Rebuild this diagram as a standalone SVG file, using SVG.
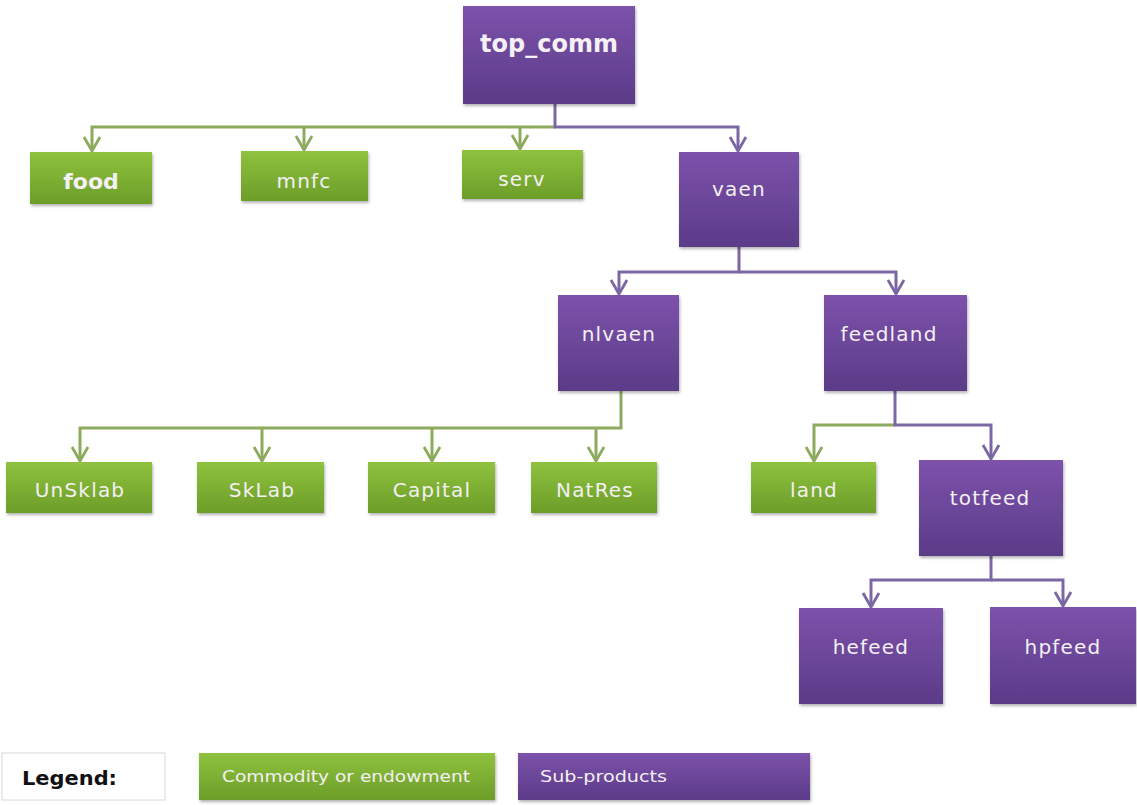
<svg xmlns="http://www.w3.org/2000/svg" width="1137" height="805" viewBox="0 0 1137 805">
<style>
.g{fill:url(#gg)}
.p{fill:url(#pg)}
.lbl{font-family:"DejaVu Sans",Verdana,sans-serif;font-size:20px;fill:#f4f0f4;text-anchor:middle;letter-spacing:1.2px}
.b{font-weight:bold;letter-spacing:0}
.cg{fill:none;stroke:#8dab5e;stroke-width:3}
.cp{fill:none;stroke:#7b67a3;stroke-width:3}
.sm{font-family:"DejaVu Sans",Verdana,sans-serif;font-size:16px;fill:#f4f0f4}
</style>
<defs>
<linearGradient id="gg" x1="0" y1="0" x2="0" y2="1">
<stop offset="0" stop-color="#8fc23e"/>
<stop offset="1" stop-color="#6c9d29"/>
</linearGradient>
<linearGradient id="pg" x1="0" y1="0" x2="0" y2="1">
<stop offset="0" stop-color="#7c52ab"/>
<stop offset="1" stop-color="#5b3b88"/>
</linearGradient>
<filter id="sh" x="-10%" y="-10%" width="125%" height="130%">
<feDropShadow dx="1" dy="2" stdDeviation="1.5" flood-color="#000" flood-opacity="0.3"/>
</filter>
<marker id="ag" viewBox="-2 -10 18 20" refX="14" refY="0" markerWidth="18" markerHeight="20" markerUnits="userSpaceOnUse" orient="auto">
<path d="M0,-8 L14,0 L0,8" fill="none" stroke="#8dab5e" stroke-width="2.8"/>
</marker>
<marker id="ap" viewBox="-2 -10 18 20" refX="14" refY="0" markerWidth="18" markerHeight="20" markerUnits="userSpaceOnUse" orient="auto">
<path d="M0,-8 L14,0 L0,8" fill="none" stroke="#7b67a3" stroke-width="2.8"/>
</marker>
</defs>
<rect width="1137" height="805" fill="#ffffff"/>
<g id="connectors">
<path class="cg" d="M555,127 H92 V151" marker-end="url(#ag)"/>
<path class="cg" d="M304,127 V150" marker-end="url(#ag)"/>
<path class="cg" d="M520,127 V149" marker-end="url(#ag)"/>
<path class="cp" d="M555,104 V127 H738 V151" marker-end="url(#ap)"/>
<path class="cp" d="M739,247 V272 H619 V294" marker-end="url(#ap)"/>
<path class="cp" d="M739,272 H896 V294" marker-end="url(#ap)"/>
<path class="cg" d="M621,391 V428 H80 V461" marker-end="url(#ag)"/>
<path class="cg" d="M262,428 V461" marker-end="url(#ag)"/>
<path class="cg" d="M432,428 V461" marker-end="url(#ag)"/>
<path class="cg" d="M596,428 V461" marker-end="url(#ag)"/>
<path class="cg" d="M895,425 H814 V461" marker-end="url(#ag)"/>
<path class="cp" d="M895,391 V425 H991 V459" marker-end="url(#ap)"/>
<path class="cp" d="M991,556 V580 H871 V607" marker-end="url(#ap)"/>
<path class="cp" d="M991,580 H1063 V606" marker-end="url(#ap)"/>
</g>
<g id="top_comm"><rect class="p" x="463" y="6" width="172" height="98" filter="url(#sh)"/><text class="lbl b" x="549" y="52" style="font-size:24px">top_comm</text></g>
<g id="food"><rect class="g" x="30" y="152" width="122" height="52" filter="url(#sh)"/><text class="lbl b" x="91" y="189" style="font-size:22px">food</text></g>
<g id="mnfc"><rect class="g" x="241" y="151" width="127" height="50" filter="url(#sh)"/><text class="lbl" x="304" y="188">mnfc</text></g>
<g id="serv"><rect class="g" x="462" y="150" width="121" height="49" filter="url(#sh)"/><text class="lbl" x="522" y="186">serv</text></g>
<g id="vaen"><rect class="p" x="679" y="152" width="120" height="95" filter="url(#sh)"/><text class="lbl" x="739" y="196">vaen</text></g>
<g id="nlvaen"><rect class="p" x="558" y="295" width="121" height="96" filter="url(#sh)"/><text class="lbl" x="619" y="341">nlvaen</text></g>
<g id="feedland"><rect class="p" x="824" y="295" width="143" height="96" filter="url(#sh)"/><text class="lbl" x="889" y="341">feedland</text></g>
<g id="UnSklab"><rect class="g" x="6" y="462" width="146" height="51" filter="url(#sh)"/><text class="lbl" x="80" y="497">UnSklab</text></g>
<g id="SkLab"><rect class="g" x="197" y="462" width="127" height="51" filter="url(#sh)"/><text class="lbl" x="262" y="497">SkLab</text></g>
<g id="Capital"><rect class="g" x="368" y="462" width="127" height="51" filter="url(#sh)"/><text class="lbl" x="432" y="497">Capital</text></g>
<g id="NatRes"><rect class="g" x="531" y="462" width="126" height="51" filter="url(#sh)"/><text class="lbl" x="595" y="497">NatRes</text></g>
<g id="land"><rect class="g" x="751" y="462" width="125" height="51" filter="url(#sh)"/><text class="lbl" x="814" y="497">land</text></g>
<g id="totfeed"><rect class="p" x="919" y="460" width="144" height="96" filter="url(#sh)"/><text class="lbl" x="990" y="505">totfeed</text></g>
<g id="hefeed"><rect class="p" x="799" y="608" width="144" height="96" filter="url(#sh)"/><text class="lbl" x="871" y="654">hefeed</text></g>
<g id="hpfeed"><rect class="p" x="990" y="607" width="146" height="97" filter="url(#sh)"/><text class="lbl" x="1063" y="654">hpfeed</text></g>
<g id="legend">
<rect x="2" y="753" width="163" height="47" fill="#ffffff" stroke="#d8d8d8" stroke-width="1"/>
<text x="22" y="785" font-family="DejaVu Sans,Verdana,sans-serif" font-size="20" font-weight="bold" fill="#111111" textLength="95" lengthAdjust="spacingAndGlyphs">Legend:</text>
<rect class="g" x="199" y="753" width="296" height="47" filter="url(#sh)"/>
<text class="sm" x="222" y="782" textLength="248" lengthAdjust="spacingAndGlyphs">Commodity or endowment</text>
<rect class="p" x="518" y="753" width="292" height="47" filter="url(#sh)"/>
<text class="sm" x="540" y="782" textLength="127" lengthAdjust="spacingAndGlyphs">Sub-products</text>
</g>
</svg>
